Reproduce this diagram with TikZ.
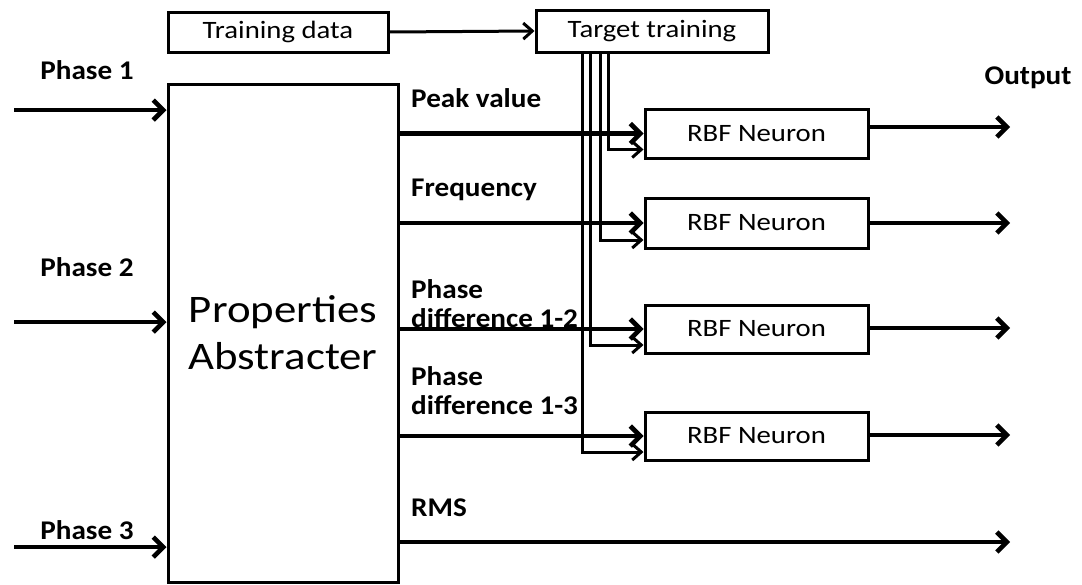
\documentclass[tikz,border=0pt]{standalone}
\usepackage{fontspec}
\setmainfont[FakeStretch=1.15]{Carlito}
\newfontfamily\lblfont[FakeStretch=1.08]{Carlito}
\usetikzlibrary{arrows.meta}
\begin{document}
\begin{tikzpicture}[x=1pt,y=-1pt,
  box/.style={draw,line width=3pt,inner sep=0pt,font=\fontsize{25}{30}\selectfont},
  lbl/.style={font=\lblfont\fontsize{27}{29}\selectfont\bfseries,inner sep=0pt,align=left},
  arr/.style={line width=4.6pt,-{Straight Barb[length=10pt,width=20pt]}},
  thin/.style={line width=3pt,-{Straight Barb[length=9pt,width=16pt]}}]
\useasboundingbox (0,0) rectangle (1082,584);
% boxes
\node[box,minimum width=220pt,minimum height=40pt] (td) at (278,32) {Training data};
\node[box,minimum width=232pt,minimum height=42pt] (tt) at (652,31) {Target training};
\node[box,minimum width=230pt,minimum height=498pt,font=\fontsize{39}{47}\selectfont,align=center] (pa) at (283,333) {Properties\\Abstracter};
\node[box,minimum width=223pt,minimum height=49pt] (r1) at (756.5,133.5) {RBF Neuron};
\node[box,minimum width=223pt,minimum height=50pt] (r2) at (756.5,223) {RBF Neuron};
\node[box,minimum width=223pt,minimum height=48pt] (r3) at (756.5,329) {RBF Neuron};
\node[box,minimum width=223pt,minimum height=48pt] (r4) at (756.5,436) {RBF Neuron};
% labels
\node[lbl] (p1) at (87,70) {Phase 1};
\node[lbl] (p2) at (87,267) {Phase 2};
\node[lbl] (p3) at (87,530) {Phase 3};
\node[lbl] (out) at (1028,78) {Output};
\node[lbl,anchor=west] (lpv) at (411,98) {Peak value};
\node[lbl,anchor=west] (lfr) at (411,190) {Frequency};
\node[lbl,anchor=west] (lp12) at (411,304) {Phase\\difference 1-2};
\node[lbl,anchor=west] (lp13) at (411,391) {Phase\\difference 1-3};
\node[lbl,anchor=west] (lrms) at (411,508) {RMS};
% free ends
\coordinate (i1) at (14,110);
\coordinate (i2) at (14,322);
\coordinate (i3) at (14,547);
\coordinate (o1) at (1010,127);
\coordinate (o2) at (1010,223);
\coordinate (o3) at (1010,328);
\coordinate (o4) at (1010,435);
\coordinate (o5) at (1010,542);
% inputs
\draw[arr] (i1) -- (i1 -| pa.west);
\draw[arr] (i2) -- (i2 -| pa.west);
\draw[arr] (i3) -- (i3 -| pa.west);
% training
\draw[thin] (td.east) -- (tt.west);
% target lines
\draw[thin] (tt.south -| 608,0) |- ([yshift=-16pt]r1.west);
\draw[thin] (tt.south -| 600,0) |- ([yshift=-17pt]r2.west);
\draw[thin] (tt.south -| 590,0) |- ([yshift=-16pt]r3.west);
\draw[thin] (tt.south -| 582,0) |- ([yshift=-16pt]r4.west);
% feature arrows
\draw[arr] (pa.east |- r1.west) -- (r1.west);
\draw[arr] (pa.east |- r2.west) -- (r2.west);
\draw[arr] (pa.east |- r3.west) -- (r3.west);
\draw[arr] (pa.east |- r4.west) -- (r4.west);
\draw[arr] (pa.east |- o5) -- (o5);
% outputs
\draw[arr] (r1.east |- o1) -- (o1);
\draw[arr] (r2.east |- o2) -- (o2);
\draw[arr] (r3.east |- o3) -- (o3);
\draw[arr] (r4.east |- o4) -- (o4);
\end{tikzpicture}
\end{document}
